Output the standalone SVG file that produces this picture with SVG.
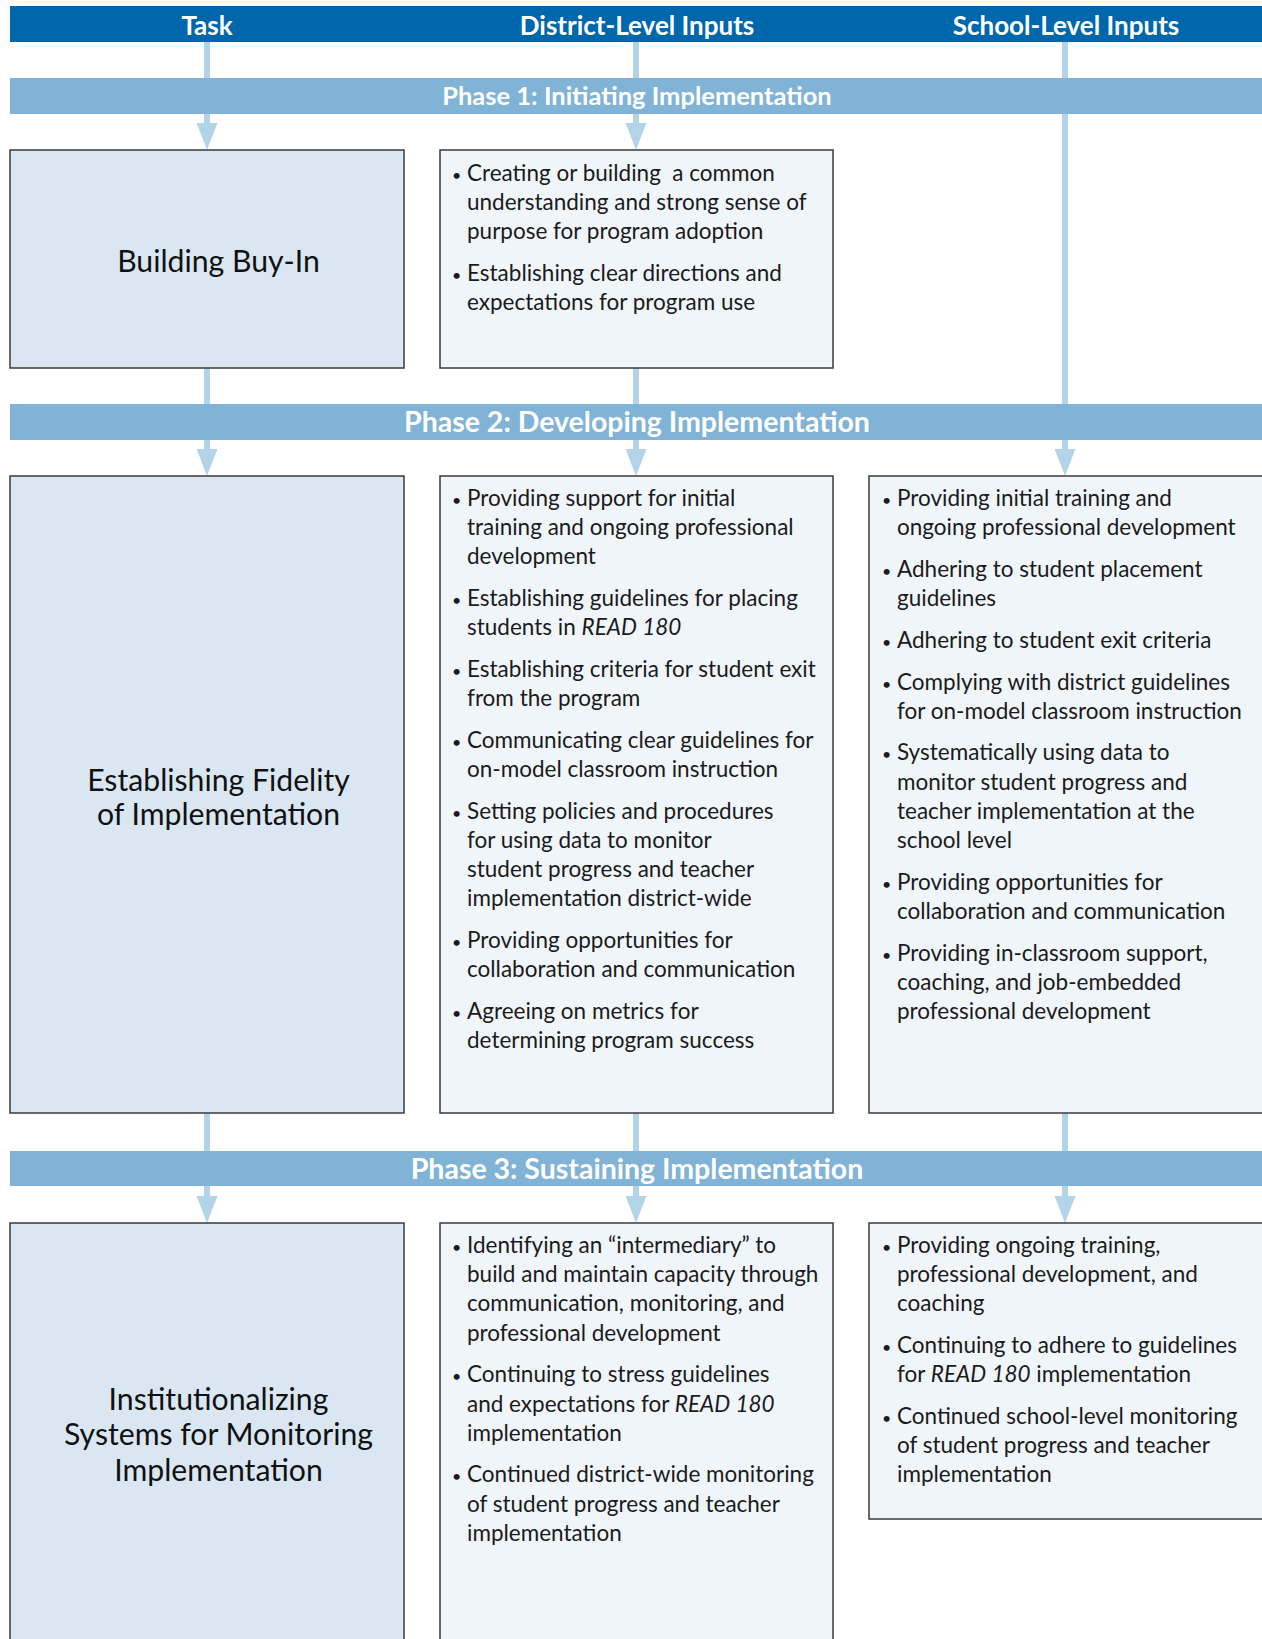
<svg xmlns="http://www.w3.org/2000/svg" width="1262" height="1639" viewBox="0 0 1262 1639">
  <style>
    .hdr { fill: #0067AC; }
    .hdrtxt { font-family: Lato, "Liberation Sans", sans-serif; font-weight: bold; font-size: 26px; fill: #ffffff; text-anchor: middle; }
    .bar { fill: #81B3D6; }
    .bartxt { font-family: Lato, "Liberation Sans", sans-serif; font-weight: bold; font-size: 28.5px; fill: #ffffff; text-anchor: middle; }
    .task { fill: #DAE7F3; stroke: #3a3a3a; stroke-width: 1.5; }
    .input { fill: #F0F5FA; stroke: #3a3a3a; stroke-width: 1.5; }
    .title { font-family: Lato, "Liberation Sans", sans-serif; font-size: 30.2px; fill: #111111; text-anchor: middle; }
    .body { font-family: Lato, "Liberation Sans", sans-serif; font-size: 22.5px; fill: #1a1a1a; }
    .b { font-size: 16px; }
    .conn { stroke: #B3D4E8; stroke-width: 6; fill: none; marker-end: url(#arr); }
    .it { font-style: italic; }
  </style>
  <defs>
    <marker id="arr" viewBox="0 0 27 21" refX="7" refY="10.5" markerWidth="27" markerHeight="21" markerUnits="userSpaceOnUse" orient="auto">
      <path d="M0,0 L27,10.5 L0,21 Z" fill="#B3D4E8"/>
    </marker>
  </defs>
  <rect width="1262" height="1639" fill="#ffffff"/>

  <g id="connectors">
    <line class="conn" x1="207" y1="42" x2="207" y2="130"/>
    <line class="conn" x1="636" y1="42" x2="636" y2="130"/>
    <line class="conn" x1="1065" y1="42" x2="1065" y2="456"/>
    <line class="conn" x1="207" y1="368" x2="207" y2="456"/>
    <line class="conn" x1="636" y1="368" x2="636" y2="456"/>
    <line class="conn" x1="207" y1="1113" x2="207" y2="1203"/>
    <line class="conn" x1="636" y1="1113" x2="636" y2="1203"/>
    <line class="conn" x1="1065" y1="1113" x2="1065" y2="1203"/>
  </g>

  <g id="header">
    <rect class="hdr" x="10" y="6" width="1262" height="36"/>
    <text class="hdrtxt" x="207" y="35">Task</text>
    <text class="hdrtxt" x="637" y="35">District-Level Inputs</text>
    <text class="hdrtxt" x="1066" y="35">School-Level Inputs</text>
  </g>

  <g id="phase1">
    <rect class="bar" x="10" y="78" width="1262" height="36"/>
    <text class="bartxt" x="637" y="104.5" style="font-size:25.5px">Phase 1: Initiating Implementation</text>
  </g>
  <g id="phase2">
    <rect class="bar" x="10" y="404" width="1262" height="36"/>
    <text class="bartxt" x="637" y="432">Phase 2: Developing Implementation</text>
  </g>
  <g id="phase3">
    <rect class="bar" x="10" y="1151" width="1262" height="35"/>
    <text class="bartxt" x="637" y="1178.5">Phase 3: Sustaining Implementation</text>
  </g>

  <g id="task1">
    <rect class="task" x="10" y="150" width="394" height="218"/>
    <text class="title" x="218.5" y="271.5">Building Buy-In</text>
  </g>
  <g id="district1">
    <rect class="input" x="440" y="150" width="393" height="218"/>
    <text class="body"><tspan class="b" x="452" y="180.5">•</tspan><tspan x="467" y="180.5">Creating or building&#160; a common</tspan><tspan x="467" y="209.7">understanding and strong sense of</tspan><tspan x="467" y="238.9">purpose for program adoption</tspan></text>
    <text class="body"><tspan class="b" x="452" y="280.6">•</tspan><tspan x="467" y="280.6">Establishing clear directions and</tspan><tspan x="467" y="309.8">expectations for program use</tspan></text>
  </g>

  <g id="task2">
    <rect class="task" x="10" y="476" width="394" height="637"/>
    <text class="title"><tspan x="218.5" y="791">Establishing Fidelity</tspan><tspan x="218.5" y="825">of Implementation</tspan></text>
  </g>
  <g id="district2">
    <rect class="input" x="440" y="476" width="393" height="637"/>
    <text class="body"><tspan class="b" x="452" y="506">•</tspan><tspan x="467" y="506">Providing support for initial</tspan><tspan x="467" y="535.2">training and ongoing professional</tspan><tspan x="467" y="564.4">development</tspan></text>
    <text class="body"><tspan class="b" x="452" y="606.1">•</tspan><tspan x="467" y="606.1">Establishing guidelines for placing</tspan><tspan x="467" y="635.3">students in <tspan class="it">READ 180</tspan></tspan></text>
    <text class="body"><tspan class="b" x="452" y="677">•</tspan><tspan x="467" y="677">Establishing criteria for student exit</tspan><tspan x="467" y="706.2">from the program</tspan></text>
    <text class="body"><tspan class="b" x="452" y="747.9">•</tspan><tspan x="467" y="747.9">Communicating clear guidelines for</tspan><tspan x="467" y="777.1">on-model classroom instruction</tspan></text>
    <text class="body"><tspan class="b" x="452" y="818.8">•</tspan><tspan x="467" y="818.8">Setting policies and procedures</tspan><tspan x="467" y="848">for using data to monitor</tspan><tspan x="467" y="877.2">student progress and teacher</tspan><tspan x="467" y="906.4">implementation district-wide</tspan></text>
    <text class="body"><tspan class="b" x="452" y="948.1">•</tspan><tspan x="467" y="948.1">Providing opportunities for</tspan><tspan x="467" y="977.3">collaboration and communication</tspan></text>
    <text class="body"><tspan class="b" x="452" y="1019">•</tspan><tspan x="467" y="1019">Agreeing on metrics for</tspan><tspan x="467" y="1048.2">determining program success</tspan></text>
  </g>
  <g id="school2">
    <rect class="input" x="869" y="476" width="410" height="637"/>
    <text class="body"><tspan class="b" x="882" y="506">•</tspan><tspan x="897" y="506">Providing initial training and</tspan><tspan x="897" y="535.2">ongoing professional development</tspan></text>
    <text class="body"><tspan class="b" x="882" y="576.9">•</tspan><tspan x="897" y="576.9">Adhering to student placement</tspan><tspan x="897" y="606.1">guidelines</tspan></text>
    <text class="body"><tspan class="b" x="882" y="647.8">•</tspan><tspan x="897" y="647.8">Adhering to student exit criteria</tspan></text>
    <text class="body"><tspan class="b" x="882" y="689.5">•</tspan><tspan x="897" y="689.5">Complying with district guidelines</tspan><tspan x="897" y="718.7">for on-model classroom instruction</tspan></text>
    <text class="body"><tspan class="b" x="882" y="760.4">•</tspan><tspan x="897" y="760.4">Systematically using data to</tspan><tspan x="897" y="789.6">monitor student progress and</tspan><tspan x="897" y="818.8">teacher implementation at the</tspan><tspan x="897" y="848">school level</tspan></text>
    <text class="body"><tspan class="b" x="882" y="889.7">•</tspan><tspan x="897" y="889.7">Providing opportunities for</tspan><tspan x="897" y="918.9">collaboration and communication</tspan></text>
    <text class="body"><tspan class="b" x="882" y="960.6">•</tspan><tspan x="897" y="960.6">Providing in-classroom support,</tspan><tspan x="897" y="989.8">coaching, and job-embedded</tspan><tspan x="897" y="1019">professional development</tspan></text>
  </g>

  <g id="task3">
    <rect class="task" x="10" y="1223" width="394" height="440"/>
    <text class="title"><tspan x="218.5" y="1409.5">Institutionalizing</tspan><tspan x="218.5" y="1445">Systems for Monitoring</tspan><tspan x="218.5" y="1480.5">Implementation</tspan></text>
  </g>
  <g id="district3">
    <rect class="input" x="440" y="1223" width="393" height="440"/>
    <text class="body"><tspan class="b" x="452" y="1253">•</tspan><tspan x="467" y="1253">Identifying an “intermediary” to</tspan><tspan x="467" y="1282.2">build and maintain capacity through</tspan><tspan x="467" y="1311.4">communication, monitoring, and</tspan><tspan x="467" y="1340.6">professional development</tspan></text>
    <text class="body"><tspan class="b" x="452" y="1382.3">•</tspan><tspan x="467" y="1382.3">Continuing to stress guidelines</tspan><tspan x="467" y="1411.5">and expectations for <tspan class="it">READ 180</tspan></tspan><tspan x="467" y="1440.7">implementation</tspan></text>
    <text class="body"><tspan class="b" x="452" y="1482.4">•</tspan><tspan x="467" y="1482.4">Continued district-wide monitoring</tspan><tspan x="467" y="1511.6">of student progress and teacher</tspan><tspan x="467" y="1540.8">implementation</tspan></text>
  </g>
  <g id="school3">
    <rect class="input" x="869" y="1223" width="410" height="296"/>
    <text class="body"><tspan class="b" x="882" y="1253">•</tspan><tspan x="897" y="1253">Providing ongoing training,</tspan><tspan x="897" y="1282.2">professional development, and</tspan><tspan x="897" y="1311.4">coaching</tspan></text>
    <text class="body"><tspan class="b" x="882" y="1353.1">•</tspan><tspan x="897" y="1353.1">Continuing to adhere to guidelines</tspan><tspan x="897" y="1382.3">for <tspan class="it">READ 180</tspan> implementation</tspan></text>
    <text class="body"><tspan class="b" x="882" y="1424">•</tspan><tspan x="897" y="1424">Continued school-level monitoring</tspan><tspan x="897" y="1453.2">of student progress and teacher</tspan><tspan x="897" y="1482.4">implementation</tspan></text>
  </g>
</svg>
